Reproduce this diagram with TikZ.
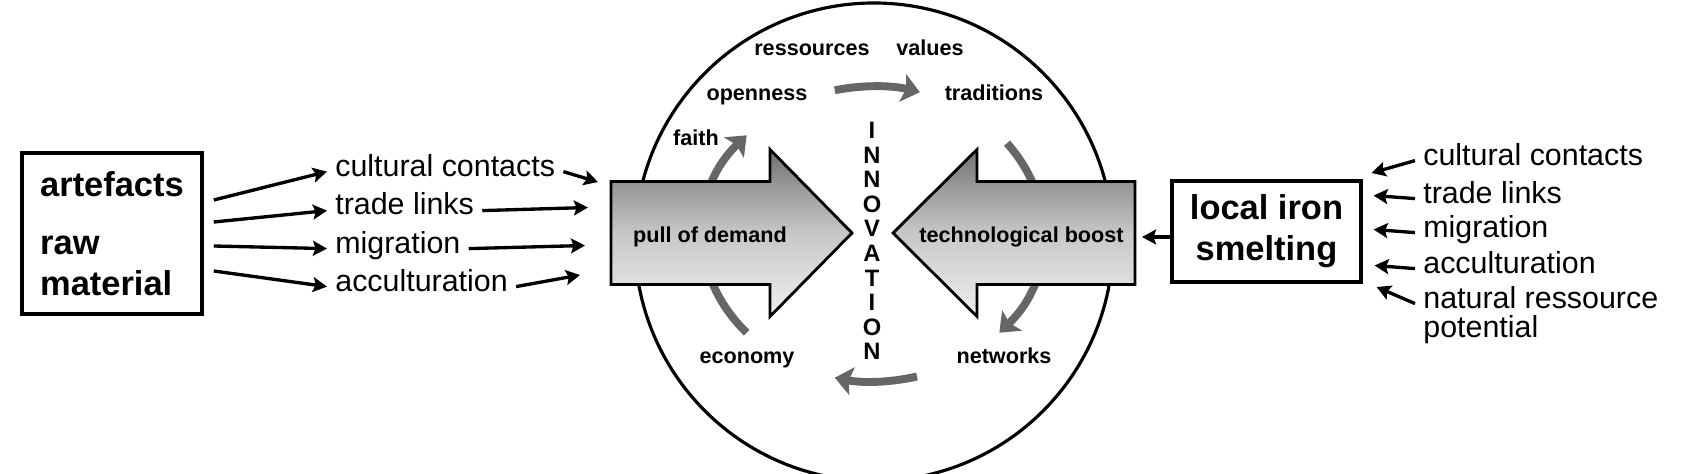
\documentclass[tikz,border=0pt]{standalone}
\usepackage{fontspec}
\setmainfont{Liberation Sans}
\usetikzlibrary{arrows.meta}

\begin{document}
\begin{tikzpicture}[>={Stealth[length=8pt,width=8.5pt,inset=1.5pt]},
  lab/.style={font=\fontsize{17.3}{20}\selectfont,inner xsep=0.16cm,inner ysep=0pt,
    text height=0.72em,text depth=0.22em,anchor=base west},
  inlab/.style={font=\fontsize{12.3}{14}\selectfont\bfseries,inner sep=0pt,anchor=base},
  srcbox/.style={draw,line width=2pt,font=\fontsize{19.6}{23.5}\selectfont\bfseries},
  link/.style={->,line width=1.9pt},
  turn/.style={line width=4.5pt,black!60,-{Stealth[length=10pt,width=16pt,inset=2pt]}},
  bigarrow/.style={draw,line width=1.6pt,top color=black!55,bottom color=black!6,middle color=black!22}]
\useasboundingbox (0,0) rectangle (34.14,9.46);
\draw[line width=1.8pt] (17.48,4.62) circle (4.78);
\foreach \a/\b in {103/74,38/-42,-75/-103,222/138}
  \draw[turn] (17.46,4.78) ++(\a:3.4 and 2.95) arc[start angle=\a,end angle=\b,x radius=3.4,y radius=2.95];
\draw[bigarrow] (12.22,3.77)--(12.22,5.83)--(15.40,5.83)--(15.40,6.47)--(17.04,4.80)--(15.40,3.13)--(15.40,3.77)--cycle;
\draw[bigarrow] (22.70,3.77)--(22.70,5.83)--(19.54,5.83)--(19.54,6.47)--(17.86,4.80)--(19.54,3.13)--(19.54,3.77)--cycle;
\coordinate (pulltail) at (12.22,4.80);
\coordinate (boosttail) at (22.70,4.80);
\node[inlab] (pull) at (14.20,4.62) {pull of demand};
\node[inlab] (boost) at (20.43,4.62) {technological boost};
\node[inlab] (res) at (16.24,8.35) {ressources};
\node[inlab] (val) at (18.60,8.35) {values};
\node[inlab] (open) at (15.14,7.45) {openness};
\node[inlab] (trad) at (19.88,7.45) {traditions};
\node[inlab] (faith) at (13.92,6.55) {faith};
\node[inlab] (econ) at (14.94,2.19) {economy};
\node[inlab] (netw) at (20.08,2.19) {networks};
\foreach \l [count=\i] in {I,N,N,O,V,A,T,I,O,N}
  \node[font=\fontsize{13.5}{14}\selectfont\bfseries,inner sep=0pt] (inno\i) at (17.44,{6.854-0.492*(\i-1)}) {\l};

\node[srcbox,minimum width=3.6cm,minimum height=3.22cm,align=left] (src) at (2.24,4.79) {artefacts\\[0.34cm]raw\\material};
\node[lab] (lcul) at (6.54,5.94) {cultural contacts};
\node[lab] (ltra) at (6.54,5.16) {trade links};
\node[lab] (lmig) at (6.54,4.40) {migration};
\node[lab] (lacc) at (6.54,3.64) {acculturation};
\draw[link] ([shift={(0.2,0.67)}]src.east)--(lcul.west);
\draw[link] ([shift={(0.2,0.23)}]src.east)--(ltra.west);
\draw[link] ([shift={(0.2,-0.25)}]src.east)--(lmig.west);
\draw[link] ([shift={(0.2,-0.75)}]src.east)--(lacc.west);
\draw[link] (lcul.east)--([shift={(-0.26,1.02)}]pulltail);
\draw[link] (ltra.east)--([shift={(-0.46,0.51)}]pulltail);
\draw[link] (lmig.east)--([shift={(-0.52,-0.25)}]pulltail);
\draw[link] (lacc.east)--([shift={(-0.62,-0.84)}]pulltail);

\node[srcbox,line width=1.8pt,minimum width=3.78cm,minimum height=2.02cm,align=center] (smelt) at (25.33,4.83) {local iron\\smelting};
\draw[link] ([yshift=-0.11cm]smelt.west)--([shift={(0.14,-0.08)}]boosttail);
\node[lab] (rcul) at (28.30,6.16) {cultural contacts};
\node[lab] (rtra) at (28.30,5.40) {trade links};
\node[lab] (rmig) at (28.30,4.72) {migration};
\node[lab] (racc) at (28.30,4.00) {acculturation};
\node[lab] (rnat) at (28.30,3.30) {natural ressource};
\node[lab] (rpot) at (28.30,2.72) {potential};
\draw[link] (rcul.west)--([shift={(0.18,1.17)}]smelt.east);
\draw[link] (rtra.west)--([shift={(0.22,0.72)}]smelt.east);
\draw[link] (rmig.west)--([shift={(0.22,0.04)}]smelt.east);
\draw[link] (racc.west)--([shift={(0.24,-0.68)}]smelt.east);
\draw[link] (rnat.west)--([shift={(0.28,-1.11)}]smelt.east);
\end{tikzpicture}
\end{document}
